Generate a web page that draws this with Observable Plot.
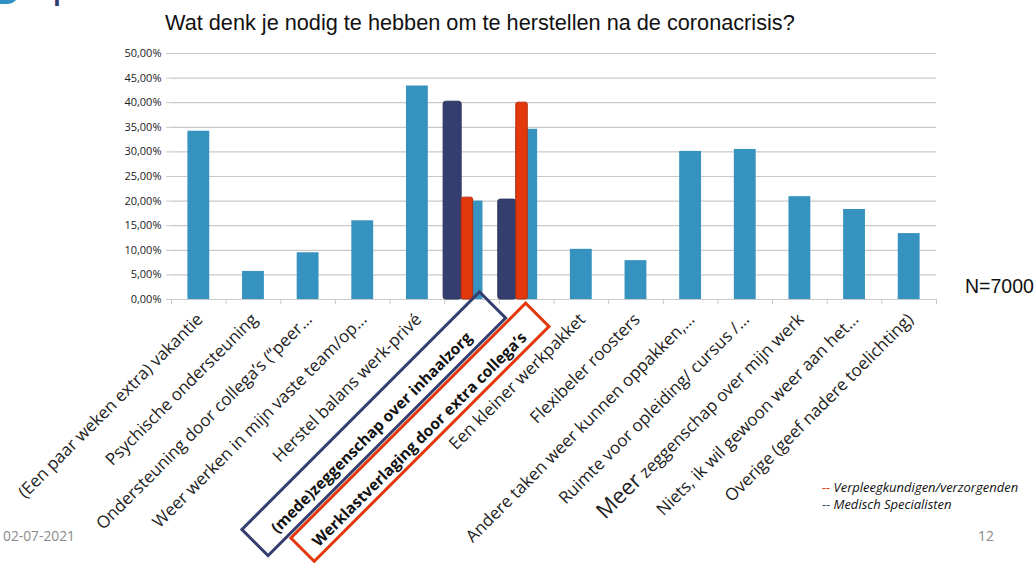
<!DOCTYPE html>
<html><head><meta charset="utf-8">
<script src="https://cdn.jsdelivr.net/npm/d3@7"></script>
<script src="https://cdn.jsdelivr.net/npm/@observablehq/plot@0.6"></script>
<style>
html,body{margin:0;padding:0;background:#fff;}
body{width:1036px;height:563px;position:relative;overflow:hidden;font-family:"Liberation Sans",Arial,sans-serif;}
#logo{position:absolute;left:40px;top:-26px;font-family:"Open Sans",sans-serif;font-weight:bold;font-size:24px;color:#2b3a6b;}
#logoMark{position:absolute;left:0;top:-10px;width:18px;height:14px;background:#2f8fc4;border-radius:0 0 10px 0;}
#title{position:absolute;left:0;top:0;width:1036px;height:40px;}
#title span{position:absolute;left:165px;top:10px;font-size:21.7px;color:#111;white-space:nowrap;}
#chart{position:absolute;left:0;top:40px;}
#n{position:absolute;left:965px;top:275px;font-size:19.5px;color:#111;}
#legend{position:absolute;left:822px;top:479px;font-family:"Open Sans",sans-serif;font-style:italic;font-size:13px;line-height:17px;color:#111;}
#date{position:absolute;left:3px;top:526px;font-family:"Open Sans",sans-serif;font-size:13.8px;color:#8a8a8a;}
#page{position:absolute;left:978px;top:526px;font-family:"Open Sans",sans-serif;font-size:13.8px;color:#8a8a8a;}
</style></head>
<body>
<div id="logoMark"></div><div id="logo">Specialisten</div>
<div id="title"><span>Wat denk je nodig te hebben om te herstellen na de coronacrisis?</span></div>
<div id="chart"></div>
<div id="n">N=7000</div>
<div id="legend"><div><span style="color:#e2380b">--</span> Verpleegkundigen/verzorgenden</div><div><span style="color:#353f6f">--</span> Medisch Specialisten</div></div>
<div id="date">02-07-2021</div>
<div id="page">12</div>
<script>
const categories = [
  "(Een paar weken extra) vakantie",
  "Psychische ondersteuning",
  "Ondersteuning door collega’s (“peer…",
  "Weer werken in mijn vaste team/op…",
  "Herstel balans werk-privé",
  "(mede)zeggenschap over inhaalzorg",
  "Werklastverlaging door extra collega’s",
  "Een kleiner werkpakket",
  "Flexibeler roosters",
  "Andere taken weer kunnen oppakken,…",
  "Ruimte voor opleiding/ cursus /…",
  "Meer zeggenschap over mijn werk",
  "Niets, ik wil gewoon weer aan het…",
  "Overige (geef nadere toelichting)"
];
const totalValues = [34.2, 5.7, 9.5, 16.0, 43.4, 20.0, 34.6, 10.2, 7.9, 30.1, 30.5, 20.9, 18.3, 13.4];
const highlightCategories = ["(mede)zeggenschap over inhaalzorg", "Werklastverlaging door extra collega’s"];
const medischValues = [40.2, 20.3];
const verpleegValues = [20.7, 40.0];
const yTicks = [0, 5, 10, 15, 20, 25, 30, 35, 40, 45, 50];

const BLUE = "#3693bf", NAVY = "#353f6f", RED = "#e2380b";

const rows = categories.map((c, i) => ({c, i, v: totalValues[i], hi: highlightCategories.includes(c)}));
const hiRows = highlightCategories.map((c, k) => ({c, i: categories.indexOf(c), m: medischValues[k], v: verpleegValues[k]}));

const plot = Plot.plot({
  width: 1036,
  height: 523,
  marginTop: 13,
  marginBottom: 264,
  marginLeft: 171,
  marginRight: 100,
  x: {type: "linear", domain: [0, categories.length], axis: null},
  y: {domain: [0, 50], axis: null},
  style: {fontFamily: "'Open Sans', sans-serif", background: "#fff"},
  marks: [
    Plot.gridY(yTicks, {stroke: "#c9c9c9", strokeOpacity: 1, strokeWidth: 1.2}),
    Plot.axisY({ticks: yTicks, tickSize: 5, tickPadding: 5, stroke: "#c9c9c9", fontSize: 11, fill: "#222",
      tickFormat: d => d.toFixed(2).replace(".", ",") + "%"}),
    Plot.axisX({ticks: d3.range(0, categories.length + 1), tickSize: 5, tickFormat: () => "", stroke: "#c9c9c9"}),
    Plot.rectY(rows, {x1: d => d.i + 0.3, x2: d => d.i + 0.7, y1: 0, y2: "v", fill: BLUE}),
    Plot.rectY(hiRows, {x1: d => d.i - 0.02, x2: d => d.i + 0.31, y1: 0, y2: "m", fill: NAVY, stroke: "#2c345c", strokeWidth: 1, rx: 2.5}),
    Plot.rectY(hiRows, {x1: d => d.i + 0.31, x2: d => d.i + 0.52, y1: 0, y2: "v", fill: RED, stroke: "#b83010", strokeWidth: 1, rx: 2}),
    Plot.text(rows.filter(d => !d.hi), {x: d => d.i + 0.5, frameAnchor: "bottom", text: "c", rotate: -45, textAnchor: "end",
      lineAnchor: "bottom", dx: 5, dy: 21, fontSize: 17, fill: "#222"}),
    Plot.text(rows.filter(d => d.hi), {x: d => d.i + 0.5, frameAnchor: "bottom", text: "c", rotate: -45, textAnchor: "end",
      lineAnchor: "bottom", dx: 1, dy: 39, fontSize: 15.5, fontWeight: "bold", fill: "#111"})
  ]
});

document.getElementById("chart").appendChild(plot);

const svg = d3.select(plot);
// enlarge "Meer"
svg.selectAll("text").filter(function() { return this.textContent === "Meer zeggenschap over mijn werk"; })
  .each(function() {
    const t = d3.select(this);
    t.text("");
    t.append("tspan").attr("font-size", 22).text("Meer");
    t.append("tspan").text(" zeggenschap over mijn werk");
  });

// highlight frames around the two bold labels
const xs = plot.scale("x"), ys = plot.scale("y");
const frames = [
  {c: highlightCategories[0], color: NAVY, x: -302, y: -27, w: 336, h: 37, dx: 3, dy: 36},
  {c: highlightCategories[1], color: RED, x: -312, y: -25, w: 332, h: 33, dx: 3, dy: 36}
];
frames.forEach(f => {
  const i = categories.indexOf(f.c);
  const ax = xs.apply(i + 0.5) + f.dx, ay = ys.apply(0) + f.dy;
  svg.append("rect")
    .attr("transform", `translate(${ax},${ay}) rotate(-45)`)
    .attr("x", f.x).attr("y", f.y).attr("width", f.w).attr("height", f.h)
    .attr("fill", "none").attr("stroke", f.color).attr("stroke-width", 3);
});
</script>
</body></html>
